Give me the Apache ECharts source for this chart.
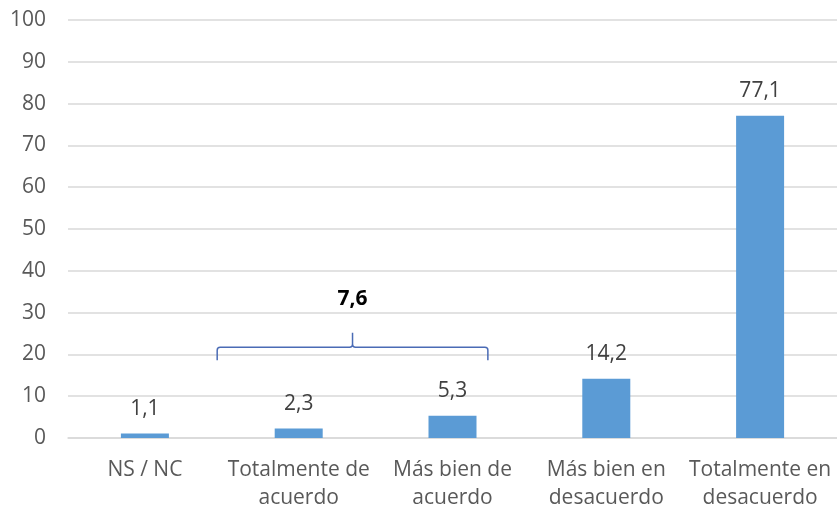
<!DOCTYPE html>
<html><head><meta charset="utf-8">
<script src="https://cdn.jsdelivr.net/npm/echarts@6/dist/echarts.min.js"></script>
<style>html,body{margin:0;padding:0;background:#fff}#c{width:837px;height:512px}</style>
</head><body><div id="c"></div>
<script>
const categories = ['NS / NC', 'Totalmente de\nacuerdo', 'Más bien de\nacuerdo', 'Más bien en\ndesacuerdo', 'Totalmente en\ndesacuerdo'];
const values = [1.1, 2.3, 5.3, 14.2, 77.1];
const groupLabel = '7,6';
const groupRange = [1, 2];
const yTicks = [0, 100, 10];

const font = '"Open Sans", "Noto Sans", sans-serif';
const fs = 21;
const chart = echarts.init(document.getElementById('c'));
chart.setOption({
  animation: false,
  grid: {left: 68, right: 0, top: 20, bottom: 70, containLabel: false},
  xAxis: {
    type: 'category', data: categories,
    axisTick: {show: false},
    axisLine: {lineStyle: {color: '#d9d9d9', width: 1.5}},
    axisLabel: {color: '#595959', fontSize: fs, fontFamily: font, margin: 18, lineHeight: 28, interval: 0}
  },
  yAxis: {
    type: 'value', min: yTicks[0], max: yTicks[1], interval: yTicks[2],
    axisLine: {show: false}, axisTick: {show: false},
    splitLine: {lineStyle: {color: '#d9d9d9', width: 1.5}},
    axisLabel: {color: '#595959', fontSize: fs, fontFamily: font, margin: 22}
  },
  series: [{
    type: 'bar', data: values, barWidth: 48,
    itemStyle: {color: '#5B9BD5'},
    label: {show: true, position: 'top', distance: 14, color: '#404040', fontSize: fs, fontFamily: font,
      formatter: p => String(p.value).replace('.', ',')}
  }, {
    type: 'custom', silent: true, z: 10,
    data: [[groupRange[0], groupRange[1]]],
    renderItem: function (params, api) {
      const c1 = api.coord([api.value(0), 0])[0];
      const c2 = api.coord([api.value(1), 0])[0];
      const bw = c2 - c1;
      const x0 = c1 - 0.53 * bw, x1 = c2 + 0.23 * bw, xm = (x0 + x1) / 2;
      const yb = api.coord([0, 18.6])[1];
      const yh = api.coord([0, 21.7])[1];
      const yt = api.coord([0, 25.2])[1];
      const yl = api.coord([0, 33.2])[1];
      const r = 3;
      const path = `M${x0},${yb} L${x0},${yh + r} Q${x0},${yh} ${x0 + r},${yh} L${xm - r},${yh} Q${xm},${yh} ${xm},${yh - r} L${xm},${yt} M${xm},${yh - r} Q${xm},${yh} ${xm + r},${yh} L${x1 - r},${yh} Q${x1},${yh} ${x1},${yh + r} L${x1},${yb}`;
      return {type: 'group', children: [
        {type: 'path', shape: {pathData: path}, style: {stroke: '#4A6BB5', lineWidth: 1.5, fill: 'none'}},
        {type: 'text', x: xm, y: yl, style: {text: groupLabel, fill: '#000', font: 'bold ' + fs + 'px ' + font, align: 'center', verticalAlign: 'middle'}}
      ]};
    }
  }]
});
</script></body></html>
